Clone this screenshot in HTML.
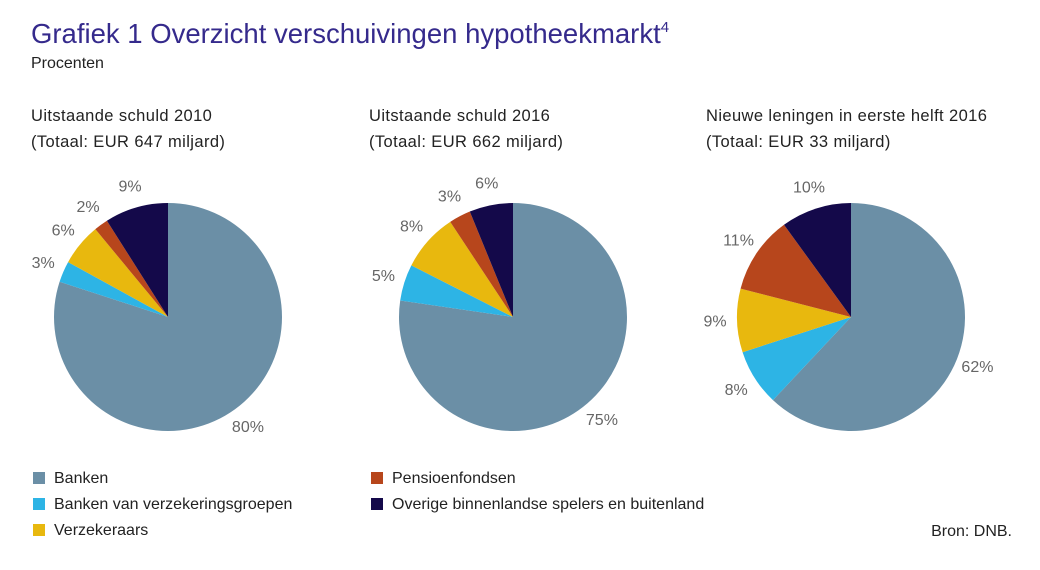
<!DOCTYPE html>
<html><head><meta charset="utf-8"><style>
body{margin:0;background:#fff;}
svg{display:block;font-family:"Liberation Sans",sans-serif;}
</style></head><body>
<svg width="1040" height="570" viewBox="0 0 1040 570">
<text x="31" y="43" font-size="27.5" fill="#352a8c">Grafiek 1  Overzicht verschuivingen hypotheekmarkt<tspan font-size="15" dy="-11">4</tspan></text>
<text x="31" y="68" font-size="16" fill="#222">Procenten</text>
<g id="pies"></g>
<g id="legend"></g>
<text x="1012" y="536" font-size="16" fill="#222" text-anchor="end">Bron: DNB.</text>
</svg>
<script>
const categories=["Banken","Banken van verzekeringsgroepen","Verzekeraars","Pensioenfondsen","Overige binnenlandse spelers en buitenland"];
const colors=["#6b8fa6","#2db4e5","#e8b80e","#b7461c","#14094a"];
const pieTitles=["Uitstaande schuld 2010","Uitstaande schuld 2016","Nieuwe leningen in eerste helft 2016"];
const pieTotals=["(Totaal: EUR 647 miljard)","(Totaal: EUR 662 miljard)","(Totaal: EUR 33 miljard)"];
const values2010=[80,3,6,2,9];
const values2016=[75,5,8,3,6];
const valuesNew=[62,8,9,11,10];
const series=[values2010,values2016,valuesNew];
const centersX=[168,513,851];
const titleX=[31,369,706];
const NS="http://www.w3.org/2000/svg";
const pies=document.getElementById('pies');
function mk(t,a){const e=document.createElementNS(NS,t);for(const k in a)e.setAttribute(k,a[k]);return e;}
function pt(cx,cy,r,a){return [cx+r*Math.sin(a),cy-r*Math.cos(a)];}
series.forEach((vals,pi)=>{
  const cx=centersX[pi],cy=317,R=114;
  const t1=mk('text',{x:titleX[pi],y:121,'font-size':16.5,'letter-spacing':0.4,fill:'#222'});t1.textContent=pieTitles[pi];
  
  
  pies.appendChild(t1);
  const t2=mk('text',{x:titleX[pi],y:147,'font-size':16.5,'letter-spacing':0.4,fill:'#222'});t2.textContent=pieTotals[pi];
  
  
  pies.appendChild(t2);
  const sum=vals.reduce((a,b)=>a+b,0);
  let a0=0;
  vals.forEach((v,i)=>{
    const da=v/sum*2*Math.PI,a1=a0+da;
    const p0=pt(cx,cy,R,a0),p1=pt(cx,cy,R,a1);
    const p=mk('path',{d:`M${cx},${cy}L${p0[0]},${p0[1]}A${R},${R} 0 ${da>Math.PI?1:0} 1 ${p1[0]},${p1[1]}Z`,fill:colors[i]});
    
    
    pies.appendChild(p);
    const lp=pt(cx,cy,R+22,(a0+a1)/2);
    const lt=mk('text',{x:lp[0],y:lp[1]+5,'font-size':16,fill:'#666','text-anchor':'middle'});
    lt.textContent=v+'%';
    
    
    pies.appendChild(lt);
    a0=a1;
  });
});
const lg=document.getElementById('legend');
const lx=[33,33,33,371,371],ly=[478,504,530,478,504];
categories.forEach((c,i)=>{
  const r=mk('rect',{x:lx[i],y:ly[i]-6,width:12,height:12,fill:colors[i]});
  
  
  lg.appendChild(r);
  const t=mk('text',{x:lx[i]+21,y:ly[i]+5,'font-size':16,fill:'#222'});t.textContent=c;
  
  
  lg.appendChild(t);
});
</script>
</body></html>
